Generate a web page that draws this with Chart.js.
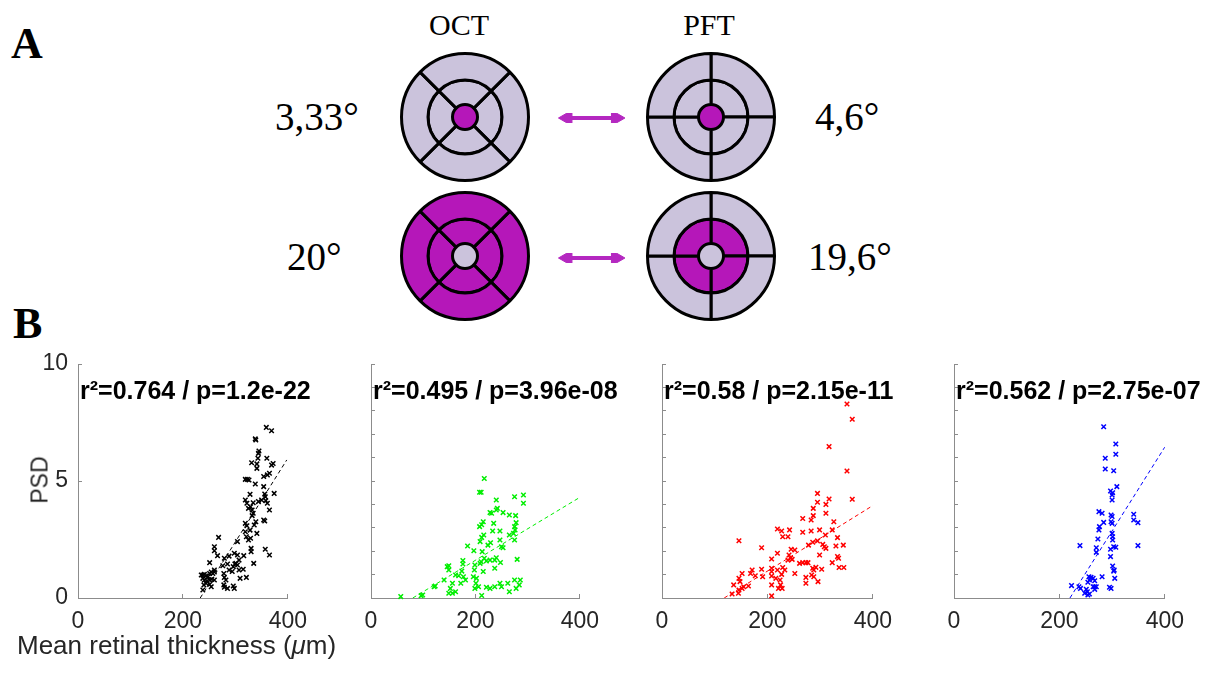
<!DOCTYPE html>
<html>
<head>
<meta charset="utf-8">
<script src="https://cdn.jsdelivr.net/npm/chart.js@4.4.1/dist/chart.umd.min.js"></script>
<style>
  body { margin: 0; background: #fff; width: 1207px; height: 673px; position: relative; overflow: hidden; }
  canvas { position: absolute; }
  .t { position: absolute; white-space: nowrap; line-height: 1; }
  .serif { font-family: "Liberation Serif", "Times New Roman", serif; color: #000; }
  .sans { font-family: "Liberation Sans", Arial, sans-serif; color: #262626; }
  .stat { font-weight: bold; font-size: 25px; color: #000; top: 378px; }
</style>
</head>
<body>
<!-- panel A -->
<div class="t serif" style="left:11px;top:22px;font-size:44px;font-weight:bold">A</div>
<div class="t serif" style="left:459px;top:10px;font-size:30px;transform:translateX(-50%)">OCT</div>
<div class="t serif" style="left:709px;top:10px;font-size:30px;transform:translateX(-50%)">PFT</div>
<div class="t serif" style="left:275px;top:97px;font-size:39px">3,33°</div>
<div class="t serif" style="left:287px;top:237px;font-size:39px">20°</div>
<div class="t serif" style="left:815px;top:97px;font-size:39px">4,6°</div>
<div class="t serif" style="left:808px;top:237px;font-size:39px">19,6°</div>
<canvas id="octTop" width="140" height="140" style="left:395px;top:47px"></canvas>
<canvas id="octBottom" width="140" height="140" style="left:395px;top:186px"></canvas>
<canvas id="pftTop" width="140" height="140" style="left:641px;top:47px"></canvas>
<canvas id="pftBottom" width="140" height="140" style="left:641px;top:186px"></canvas>
<canvas id="arrowTop" width="100" height="30" style="left:540px;top:103px"></canvas>
<canvas id="arrowBottom" width="100" height="30" style="left:540px;top:243px"></canvas>

<!-- panel B -->
<div class="t serif" style="left:13px;top:302px;font-size:44px;font-weight:bold">B</div>
<canvas id="c1" width="303" height="312" style="left:18px;top:330px"></canvas>
<canvas id="c2" width="302" height="312" style="left:311px;top:330px"></canvas>
<canvas id="c3" width="304" height="312" style="left:602px;top:330px"></canvas>
<canvas id="c4" width="304" height="312" style="left:894px;top:330px"></canvas>
<div class="t sans stat" style="left:80px">r²=0.764 / p=1.2e-22</div>
<div class="t sans stat" style="left:373px">r²=0.495 / p=3.96e-08</div>
<div class="t sans stat" style="left:664px">r²=0.58 / p=2.15e-11</div>
<div class="t sans stat" style="left:956px">r²=0.562 / p=2.75e-07</div>
<div class="t sans" style="left:40px;top:480px;font-size:23px;transform:translate(-50%,-50%) rotate(-90deg)">PSD</div>
<div class="t sans" style="left:17px;top:632px;font-size:26px">Mean retinal thickness (<i>μ</i>m)</div>

<script>
// ---- panel A: sector grids ----
const LAV = '#cbc3dc', MAG = '#b517b9';
const sectorShare = [1, 1, 1, 1];
const ringWeights = [26.5, 24.5, 12.5]; // outer ring, middle ring, centre spot (px)
const octRotation = 45;
const pftRotation = 0;

function grid(id, rotation, fills) {
  new Chart(document.getElementById(id), {
    type: 'doughnut',
    data: {
      datasets: [
        { data: sectorShare, backgroundColor: fills[0], borderColor: '#000', borderWidth: 3, weight: ringWeights[0] },
        { data: sectorShare, backgroundColor: fills[1], borderColor: '#000', borderWidth: 3, weight: ringWeights[1] },
        { data: [1], backgroundColor: fills[2], borderWidth: 0, weight: ringWeights[2] }
      ]
    },
    options: {
      responsive: false, animation: false, events: [],
      radius: 63.5, cutout: 0, rotation,
      plugins: { legend: { display: false }, tooltip: { enabled: false } }
    }
  });
}
grid('octTop', octRotation, [LAV, LAV, MAG]);
grid('octBottom', octRotation, [MAG, MAG, LAV]);
grid('pftTop', pftRotation, [LAV, LAV, MAG]);
grid('pftBottom', pftRotation, [LAV, MAG, LAV]);

const arrowEnds = [0, 1];
function arrow(id) {
  new Chart(document.getElementById(id), {
    type: 'scatter',
    data: { datasets: [{
      data: arrowEnds.map(x => ({ x, y: 0 })),
      showLine: true, borderColor: '#b428c0', borderWidth: 4,
      pointStyle: 'triangle', pointRadius: 9, pointRotation: [270, 90],
      pointBackgroundColor: '#b428c0', pointBorderColor: '#b428c0', pointBorderWidth: 1
    }] },
    options: {
      responsive: false, animation: false, events: [],
      layout: { padding: 0 },
      plugins: { legend: { display: false }, tooltip: { enabled: false } },
      scales: { x: { display: false, min: -0.36, max: 1.29 }, y: { display: false, min: -1, max: 1 } }
    }
  });
}
arrow('arrowTop');
arrow('arrowBottom');

// ---- panel B: PSD vs mean retinal thickness ----
const xTickValues = [0, 200, 400];
const yTickValues = [0, 5, 10];
const yMinorTicks = [0, 1, 2, 3, 4, 5, 6, 7, 8, 9, 10];

const thick1 = [359,369,338,339,345,344,343,331,341,360,372,369,341,361,354,365,319,323,326,338,354,374,356,357,328,319,322,334,344,350,358,361,329,332,325,365,334,332,339,354,356,319,322,336,319,328,341,321,329,325,304,268,260,260,266,330,330,357,365,279,288,298,304,307,316,251,260,276,285,299,301,304,296,335,315,307,235,238,241,244,248,251,254,257,260,238,241,246,251,255,260,244,240,251,254,238,278,279,282,278,279,285,296,298,309,321,294,288];
const psd1 = [7.29,7.15,6.8,6.75,6.28,6.18,5.97,5.78,5.73,5.97,5.75,5.68,5.54,5.26,5.19,5.33,5.07,5.07,5.04,4.87,4.76,4.47,4.44,4.33,4.43,4.19,4.05,4.07,4.12,4.19,4.16,4.05,3.9,3.76,3.83,3.76,3.62,3.52,3.26,3.33,3.29,3.19,3.09,3.12,2.83,2.9,2.76,2.62,2.55,2.48,2.41,2.59,2.19,2.02,1.81,2.12,1.98,2.08,1.84,1.7,1.79,1.91,1.84,1.62,1.81,1.51,1.2,1.38,1.45,1.45,1.48,1.41,1.34,1.48,1.23,1.2,0.98,0.98,1.01,0.94,0.91,1.05,1.11,1.05,1.11,0.84,0.77,0.74,0.77,0.8,0.77,0.63,0.56,0.58,0.48,0.34,1.05,0.88,0.77,0.56,0.46,0.41,0.51,0.41,0.84,0.88,1.13,1.2];
const fitX1 = [233, 398], fitY1 = [0, 5.9];

const thick2 = [217,208,211,240,242,240,275,292,292,228,231,253,265,277,278,275,276,215,212,208,235,233,247,216,212,209,247,265,273,275,250,253,185,197,213,224,229,237,217,228,240,248,221,211,209,280,176,176,149,146,149,237,199,198,174,177,196,162,168,181,172,156,152,149,156,162,202,201,199,206,212,221,228,237,247,250,262,265,275,278,286,284,215,140,121,123,96,99,57];
const psd2 = [5.11,4.52,4.52,4.19,3.83,3.76,4.33,4.4,4.05,3.65,3.62,3.65,3.55,3.52,3.22,3.05,2.91,3.26,3.13,3.05,3.19,2.86,2.86,2.69,2.59,2.41,2.48,2.69,2.76,2.48,2.19,2.15,2.22,2.02,1.98,2.26,2.36,1.62,1.7,1.62,1.72,1.52,1.58,1.55,1.48,1.65,1.6,1.45,1.38,1.34,1.2,1.27,1.41,1.2,1.15,0.91,0.91,0.98,0.95,0.77,0.63,0.63,0.41,0.2,0.2,0.27,0.84,0.63,0.41,0.48,0.11,0.46,0.41,0.48,0.63,0.48,0.63,0.27,0.77,0.41,0.77,0.56,1.13,0.77,0.48,0.51,0.1,0.13,0.06];
const fitX2 = [80, 400], fitY2 = [0, 4.3];

const thick3 = [351,361,317,351,361,295,317,295,311,287,311,267,283,287,326,219,227,242,229,239,267,283,299,323,310,333,146,286,295,305,278,308,311,330,344,189,219,245,252,299,241,244,247,239,267,273,277,208,261,333,335,323,336,345,286,288,292,303,284,288,296,229,233,219,216,224,227,225,221,228,208,208,208,273,273,252,189,191,171,168,152,146,148,155,152,146,136,145,133,164,208,208,177];
const psd3 = [8.29,7.64,6.47,5.43,4.22,4.47,4.23,4.09,4.0,3.83,3.62,3.4,3.33,3.52,3.26,2.95,2.86,2.91,2.62,2.62,2.81,2.86,2.91,2.91,2.69,2.58,2.45,2.38,2.44,2.29,2.26,2.19,2.12,2.22,2.26,2.15,1.91,2.08,2.05,1.84,1.84,1.7,1.65,1.62,1.51,1.51,1.51,1.67,1.48,1.77,1.7,1.51,1.3,1.3,1.27,1.2,1.31,1.23,0.98,0.91,0.7,1.3,1.2,1.2,0.84,0.77,1.01,0.56,0.41,0.41,1.27,1.13,0.94,0.88,0.63,1.05,1.23,0.91,1.2,1.05,1.05,0.84,0.7,0.48,0.41,0.34,0.56,0.2,0.17,0.51,0.56,0.09,0.95];
const fitX3 = [118, 400], fitY3 = [0, 3.95];

const thick4 = [284,307,307,287,287,303,309,297,301,300,300,275,281,284,276,275,273,298,300,298,300,341,341,349,300,301,301,307,303,297,239,349,270,270,297,301,304,303,305,281,256,260,257,264,267,254,270,267,264,223,237,240,251,253,257,254,248,295,298,267];
const psd4 = [7.32,6.58,6.14,5.97,5.51,5.44,4.76,4.57,4.5,4.4,4.19,3.69,3.62,3.23,3.05,2.91,2.52,3.55,3.48,3.26,3.19,3.58,3.33,3.22,2.76,2.62,2.48,2.17,2.19,2.08,2.24,2.24,2.15,1.95,1.77,1.37,1.2,1.15,0.84,0.91,0.91,0.88,0.77,0.84,0.74,0.67,0.48,0.37,0.48,0.53,0.48,0.41,0.37,0.27,0.17,0.13,0.2,0.46,0.41,0.48];
const fitX4 = [220, 400], fitY4 = [0, 6.45];

const AXIS = '#8c8c8c';
const tickFont = { family: 'Liberation Sans', size: 23 };

function panel(id, xs, ys, fx, fy, color, showY) {
  new Chart(document.getElementById(id), {
    type: 'scatter',
    data: { datasets: [
      { data: xs.map((x, i) => ({ x, y: ys[i] })), pointStyle: 'crossRot', pointRadius: 3.2,
        borderColor: color, backgroundColor: color, pointBorderWidth: 1.5, clip: false },
      { data: fx.map((x, i) => ({ x, y: fy[i] })), showLine: true, pointRadius: 0,
        borderColor: color, borderWidth: 1, borderDash: [4, 3] }
    ] },
    options: {
      responsive: false, animation: false, events: [],
      layout: { padding: { left: 20, top: 34, right: 30, bottom: 0 } },
      plugins: { legend: { display: false }, tooltip: { enabled: false } },
      scales: {
        x: {
          min: 0, max: 400,
          afterBuildTicks: s => { s.ticks = xTickValues.map(v => ({ value: v })); },
          afterFit: s => { s.height = 44; },
          ticks: { color: '#262626', font: tickFont, padding: 14, maxRotation: 0 },
          grid: { drawOnChartArea: false, tickLength: -4, color: AXIS },
          border: { color: AXIS }
        },
        y: {
          min: 0, max: 10,
          afterBuildTicks: s => { s.ticks = (showY ? yTickValues : yMinorTicks).map(v => ({ value: v })); },
          afterFit: s => { s.width = 40; },
          ticks: { display: showY, color: '#262626', font: tickFont, padding: 14 },
          grid: { drawOnChartArea: false, tickLength: -4, color: AXIS },
          border: { color: AXIS }
        }
      }
    }
  });
}
panel('c1', thick1, psd1, fitX1, fitY1, '#000000', true);
panel('c2', thick2, psd2, fitX2, fitY2, '#00ee00', false);
panel('c3', thick3, psd3, fitX3, fitY3, '#ff0000', false);
panel('c4', thick4, psd4, fitX4, fitY4, '#0000ff', false);
</script>
</body>
</html>
